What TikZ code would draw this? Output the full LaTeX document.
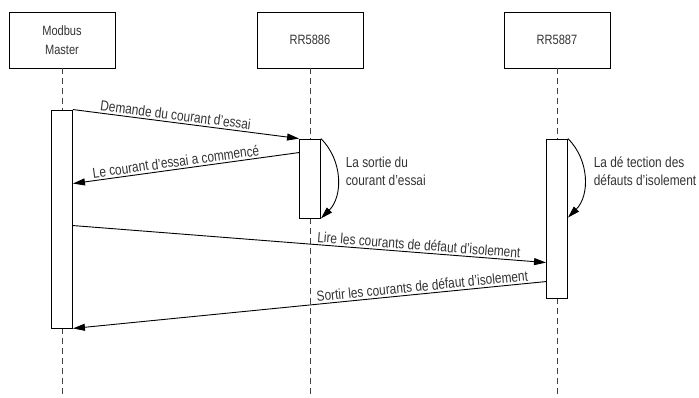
\documentclass[tikz,border=0pt]{standalone}
\usepackage{fontspec}
\setmainfont[FakeStretch=0.82]{Liberation Sans}
\usetikzlibrary{arrows.meta}
\tikzset{
  actor/.style={draw,minimum width=106pt,minimum height=56pt,align=center,
    text=black!80,font=\fontsize{13.5}{18.5}\selectfont},
  lifeline/.style={draw=black!75,dash pattern=on 6pt off 4pt},
  activation/.style={draw,fill=white,minimum width=21pt,inner sep=0pt},
  msg/.style={-{Triangle[length=12pt,width=7pt]}},
  msgtext/.style={sloped,above,inner sep=2pt,text=black!80,font=\fontsize{14.5}{16}\selectfont},
  note/.style={align=left,anchor=west,text=black!80,font=\fontsize{14.5}{18}\selectfont}
}

\begin{document}
\begin{tikzpicture}[x=1pt,y=-1pt,line width=0.9pt]
\useasboundingbox (0,0) rectangle (699,397);
\coordinate (bottom) at (0,397);
\node[actor] (master) at (62,40) {Modbus\\Master};
\node[actor] (rrA) at (310,40) {RR5886};
\node[actor] (rrB) at (557,40) {RR5887};
\draw[lifeline] (master.south) -- (master.south |- bottom);
\draw[lifeline] (rrA.south) -- (rrA.south |- bottom);
\draw[lifeline] (rrB.south) -- (rrB.south |- bottom);
\node[activation,minimum height=218pt] (actM) at (62,219) {};
\node[activation,minimum height=79pt] (actA) at (310,178.5) {};
\node[activation,minimum height=159pt] (actB) at (557,218.5) {};
\coordinate (m2a) at ([yshift=-14pt]actA.north west);
\coordinate (m2b) at ([yshift=-74pt]actM.north east);
\coordinate (m3a) at ([yshift=-116pt]actM.north east);
\coordinate (m3b) at ([yshift=-124pt]actB.north west);
\coordinate (m4a) at ([yshift=-143pt]actB.north west);
\coordinate (selfB) at ([yshift=-79pt]actB.north east);
\draw[msg] (actM.north east) -- node[msgtext,pos=0.45]{Demande du courant d’essai} (actA.north west);
\draw[msg] (m2a) -- node[msgtext,pos=0.54]{Le courant d’essai a commencé} (m2b);
\draw[msg] (m3a) -- node[msgtext,pos=0.73]{Lire les courants de défaut d’isolement} (m3b);
\draw[msg] (m4a) -- node[msgtext,pos=0.26]{Sortir les courants de défaut d’isolement} (actM.south east);
\draw[msg] (actA.north east) to[bend left=45] (actA.south east);
\draw[msg] (actB.north east) to[bend left=45] (selfB);
\node[note] (noteA) at (342,171) {La sortie du\\courant d’essai};
\node[note] (noteB) at (590,171) {La dé tection des\\défauts d’isolement};
\end{tikzpicture}
\end{document}
